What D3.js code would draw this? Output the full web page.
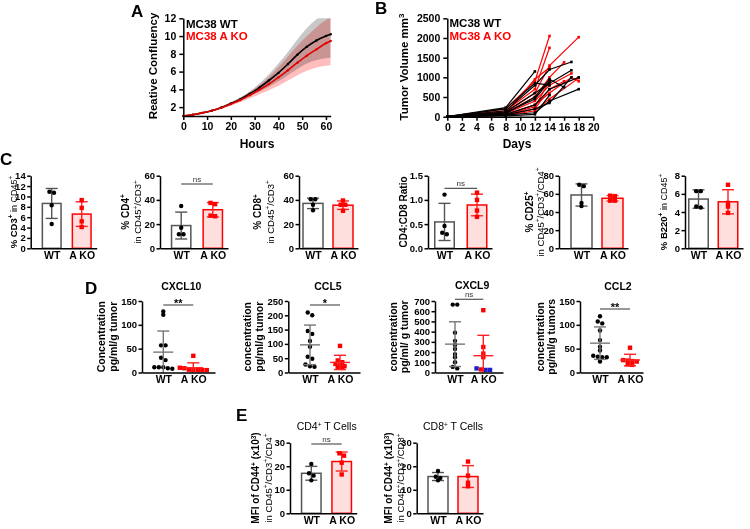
<!DOCTYPE html>
<html>
<head>
<meta charset="utf-8">
<script src="https://cdn.jsdelivr.net/npm/d3@7"></script>
<style>
body { margin: 0; background: #fff; }
svg { font-family: Arial, "Liberation Sans", sans-serif; }
.axis path, .axis line { stroke: #000; stroke-width: 1.5; }
.axis text { font-weight: bold; font-size: 10.5px; fill: #000; font-family: Arial, "Liberation Sans", sans-serif; }
.small text { font-size: 9.5px; }
.cat text { font-size: 10.5px; }
</style>
</head>
<body>
<script>
// ---------- A: confluency over time (mean and SD band) ----------
var hours   = [0, 4, 8, 12, 16, 20, 24, 28, 32, 36, 40, 44, 48, 52, 56, 60, 62]
var wtMean  = [1.0, 1.15, 1.35, 1.6, 1.95, 2.4, 2.9, 3.5, 4.2, 5.0, 5.85, 6.85, 7.9, 8.8, 9.5, 10.0, 10.2]
var wtUpper = [1.0, 1.17, 1.4, 1.67, 2.05, 2.55, 3.1, 3.8, 4.65, 5.7, 6.9, 8.2, 9.6, 10.9, 11.9, 12.5, 12.8]
var wtLower = [1.0, 1.13, 1.3, 1.53, 1.85, 2.25, 2.7, 3.2, 3.75, 4.3, 4.9, 5.6, 6.3, 6.9, 7.3, 7.5, 7.6]
var koMean  = [1.0, 1.15, 1.35, 1.6, 1.93, 2.35, 2.8, 3.35, 3.95, 4.6, 5.35, 6.15, 7.0, 7.8, 8.5, 9.2, 9.45]
var koUpper = [1.0, 1.17, 1.4, 1.67, 2.03, 2.5, 3.05, 3.7, 4.5, 5.4, 6.5, 7.7, 8.9, 10.0, 11.0, 11.8, 12.1]
var koLower = [1.0, 1.13, 1.3, 1.52, 1.8, 2.15, 2.55, 3.0, 3.45, 3.9, 4.4, 5.0, 5.6, 6.1, 6.45, 6.65, 6.7]

// ---------- B: tumour volume per mouse [day, mm3] ----------
var wtMice = [
  [[0,0],[8,230],[12,1150]],
  [[0,0],[8,150],[12,800],[14,1200],[17,1390]],
  [[0,0],[8,120],[12,600],[14,850],[17,1180]],
  [[0,0],[8,60],[12,300],[14,700],[18,1000]],
  [[0,0],[8,40],[12,100],[14,400],[18,700]],
  [[0,0],[8,80],[12,500],[14,950],[16,750]],
  [[0,0],[8,200],[12,850],[14,800]],
  [[0,0],[8,50],[12,200],[14,350],[17,1000]],
  [[0,0],[8,20],[12,60],[14,550]],
  [[0,0],[8,100],[12,450],[14,900]]
]
var koMice = [
  [[0,0],[8,200],[12,900],[14,2050]],
  [[0,0],[8,150],[12,700],[14,1750]],
  [[0,0],[8,120],[12,600],[14,1300],[18,2020]],
  [[0,0],[8,100],[12,500],[14,1000],[16,1380]],
  [[0,0],[8,80],[12,400],[14,800],[17,1100]],
  [[0,0],[8,60],[12,300],[14,600],[17,1000],[18,900]],
  [[0,0],[8,50],[12,250],[14,900]],
  [[0,0],[8,40],[12,200],[14,700],[16,900]],
  [[0,0],[8,100],[12,950],[14,1250]],
  [[0,0],[8,30],[12,150],[14,450],[18,980]]
]

// ---------- C: flow cytometry, 4 mice per group ----------
var groups = ['WT', 'A KO']
var cd3WT = [10.7, 10.9, 8.3, 4.7],   cd3KO = [9.3, 7.8, 5.2, 4.1]
var cd4WT = [35, 17, 11.6, 11.6],     cd4KO = [36.5, 37.5, 26.5, 27]
var cd8WT = [40.5, 40.5, 36, 31.5],   cd8KO = [39.5, 36, 36, 31]
var ratioWT = [1.11, 0.46, 0.32, 0.29], ratioKO = [1.15, 1.0, 0.78, 0.65]
var cd25WT = [68.5, 70, 50, 46.5],    cd25KO = [57.5, 58, 52.5, 52.5]
var b220WT = [6.3, 6.3, 4.6, 4.5],    b220KO = [7.0, 5.0, 4.6, 3.9]

// ---------- D: chemokines, pg/ml/g tumour ----------
var cxcl10WT = [128, 121, 57, 57, 31, 26, 11, 11, 11, 9, 8]
var cxcl10KO = [35, 10, 9, 6, 5, 5, 5, 5]
var ccl5WT = [210, 200, 145, 135, 110, 90, 55, 48, 28, 22, 20]
var ccl5KO = [93, 42, 36, 30, 25, 22, 18, 16]
var cxcl9WT = [665, 665, 390, 310, 270, 230, 180, 150, 100, 55, 40]
var cxcl9KO = [610, 250, 185, 150, 30]
var cxcl9KOblue = [25, 40, 25]
var ccl2WT = [118, 107, 103, 88, 68, 54, 46, 35, 33, 32, 32, 23]
var ccl2KO = [52, 26, 25, 24, 23, 17, 16]

// ---------- E: MFI of CD44 (x10^3) ----------
var cd44cd4WT = [21, 17, 16, 14],   cd44cd4KO = [25.5, 24.5, 21.5, 16.5]
var cd44cd8WT = [18, 15.5, 15, 14], cd44cd8KO = [22, 16, 13, 11.5]

var svg = d3.select('body').append('svg').attr('width', 750).attr('height', 529)

// panel letters
var letters = [['A', 131, 17], ['B', 375, 14], ['C', 0, 165], ['D', 85, 294], ['E', 236, 421]]
svg.selectAll('.letter').data(letters).enter().append('text')
  .attr('x', d => d[1]).attr('y', d => d[2]).text(d => d[0])
  .attr('font-size', 17).attr('font-weight', 'bold')

// text with bold / regular / superscript pieces
function richLabel(g, x, y, parts, rotate) {
  var t = g.append('text').attr('text-anchor', 'middle')
    .attr('transform', 'translate(' + x + ',' + y + ')' + (rotate ? ' rotate(-90)' : ''))
    .attr('y', 3.5)
  var up = false
  parts.forEach(function (p) {
    var s = t.append('tspan').text(p[0])
      .attr('font-weight', p[1] == 'b' ? 'bold' : 'normal')
      .attr('font-size', p[2])
    if (p[3] == 'sup' && !up) { s.attr('dy', -3.5); up = true }
    else if (p[3] != 'sup' && up) { s.attr('dy', 3.5); up = false }
  })
}

// ========== Panel A ==========
var ax = d3.scaleLinear().domain([0, 62]).range([183.3, 330.7])
var ay = d3.scaleLinear().domain([1, 12]).range([116, 18.3])

svg.append('clipPath').attr('id', 'clipA').append('rect')
  .attr('x', ax(0)).attr('y', ay(12)).attr('width', ax(62) - ax(0)).attr('height', ay(1) - ay(12))

var gA = svg.append('g')
var bands = gA.append('g').attr('clip-path', 'url(#clipA)')
function band(up, lo) {
  return d3.area().curve(d3.curveMonotoneX)
    .x((d, i) => ax(hours[i])).y0((d, i) => ay(lo[i])).y1((d, i) => ay(up[i]))(hours)
}
bands.append('path').attr('d', band(wtUpper, wtLower)).attr('fill', '#c8c8c8').style('mix-blend-mode', 'multiply')
bands.append('path').attr('d', band(koUpper, koLower)).attr('fill', '#ffbdbd').style('mix-blend-mode', 'multiply')

var curveLine = d3.line().curve(d3.curveMonotoneX).x((d, i) => ax(hours[i])).y(d => ay(d))
;[[wtMean, '#000'], [koMean, '#e00000']].forEach(function (s) {
  gA.append('path').attr('d', curveLine(s[0])).attr('fill', 'none').attr('stroke', s[1]).attr('stroke-width', 1.6)
  gA.selectAll(null).data(s[0]).enter().append('circle')
    .attr('cx', (d, i) => ax(hours[i])).attr('cy', d => ay(d)).attr('r', 1.2).attr('fill', s[1])
})

gA.append('g').attr('class', 'axis').attr('transform', 'translate(' + ax(0) + ',0)')
  .call(d3.axisLeft(ay).tickValues([2, 4, 6, 8, 10, 12]).tickSize(4).tickSizeOuter(0))
gA.append('g').attr('class', 'axis').attr('transform', 'translate(0,' + ay(1) + ')')
  .call(d3.axisBottom(ax).tickValues(d3.range(0, 61, 10)).tickSize(4).tickSizeOuter(0))
gA.append('text').attr('x', 257).attr('y', 148).attr('text-anchor', 'middle')
  .attr('font-size', 12).attr('font-weight', 'bold').text('Hours')
richLabel(gA, 153.5, 66, [['Reative Confluency', 'b', 11.5]], true)
gA.append('text').attr('x', 186).attr('y', 27.5).attr('font-size', 11.5).attr('font-weight', 'bold').text('MC38 WT')
gA.append('text').attr('x', 186).attr('y', 40).attr('font-size', 11.5).attr('font-weight', 'bold')
  .attr('fill', '#f00').text('MC38 A KO')

// ========== Panel B ==========
var bx = d3.scaleLinear().domain([0, 20]).range([447.3, 593.3])
var by = d3.scaleLinear().domain([0, 2500]).range([116.7, 18.3])
var gB = svg.append('g')
var mouseLine = d3.line().x(d => bx(d[0])).y(d => by(d[1]))
;[[koMice, '#f00'], [wtMice, '#000']].forEach(function (s) {
  s[0].forEach(function (m) {
    gB.append('path').attr('d', mouseLine(m)).attr('fill', 'none').attr('stroke', s[1]).attr('stroke-width', 1.2)
    gB.selectAll(null).data(m).enter().append('rect')
      .attr('x', d => bx(d[0]) - 1.3).attr('y', d => by(d[1]) - 1.3)
      .attr('width', 2.6).attr('height', 2.6).attr('fill', s[1])
  })
})
gB.append('g').attr('class', 'axis').attr('transform', 'translate(' + bx(0) + ',0)')
  .call(d3.axisLeft(by).tickValues(d3.range(0, 2501, 500)).tickSize(4).tickSizeOuter(0).tickFormat(d3.format('d')))
gB.append('g').attr('class', 'axis').attr('transform', 'translate(0,' + by(0) + ')')
  .call(d3.axisBottom(bx).tickValues(d3.range(0, 21, 2)).tickSize(4).tickSizeOuter(0))
gB.append('text').attr('x', 517).attr('y', 148).attr('text-anchor', 'middle')
  .attr('font-size', 12).attr('font-weight', 'bold').text('Days')
richLabel(gB, 404, 67, [['Tumor Volume mm', 'b', 11.5], ['3', 'b', 8, 'sup']], true)
gB.append('text').attr('x', 449.5).attr('y', 27).attr('font-size', 11.5).attr('font-weight', 'bold').text('MC38 WT')
gB.append('text').attr('x', 449.5).attr('y', 40).attr('font-size', 11.5).attr('font-weight', 'bold')
  .attr('fill', '#f00').text('MC38 A KO')

// ========== shared helpers for C, D, E ==========
function pointX(x0, x1, c) {
  var step = c[1] - c[0]
  return d3.scalePoint().domain(groups).range([x0, x1])
    .padding(((x1 - x0) / step - 1) / 2)
    .align((c[0] - x0) / ((x1 - x0) - step))
}

// spread points that would overlap side by side
function swarm(vals, y, cx, gap, close) {
  var items = vals.map(v => ({ v: v, py: y(v) })).sort((a, b) => a.py - b.py)
  var rows = [], cur = null
  items.forEach(function (it) {
    if (cur && it.py - cur[0].py < close) cur.push(it)
    else { cur = [it]; rows.push(cur) }
  })
  rows.forEach(r => r.forEach((it, i) => { it.px = cx + (i - (r.length - 1) / 2) * gap }))
  return items
}

function drawPoints(g, pts, kind, color) {
  if (kind == 'circle') {
    g.selectAll(null).data(pts).enter().append('circle')
      .attr('cx', d => d.px).attr('cy', d => d.py).attr('r', 2.2).attr('fill', color)
  } else {
    g.selectAll(null).data(pts).enter().append('rect')
      .attr('x', d => d.px - 2.2).attr('y', d => d.py - 2.2)
      .attr('width', 4.4).attr('height', 4.4).attr('fill', color)
  }
}

function errorBar(g, cx, y, m, sd, color, cap, meanW) {
  var lo = Math.max(y.domain()[0], m - sd), hi = m + sd
  g.append('line').attr('x1', cx).attr('x2', cx).attr('y1', y(lo)).attr('y2', y(hi))
    .attr('stroke', color).attr('stroke-width', 1.4)
  g.append('line').attr('x1', cx - cap / 2).attr('x2', cx + cap / 2).attr('y1', y(hi)).attr('y2', y(hi))
    .attr('stroke', color).attr('stroke-width', 1.4)
  if (m - sd > y.domain()[0])
    g.append('line').attr('x1', cx - cap / 2).attr('x2', cx + cap / 2).attr('y1', y(lo)).attr('y2', y(lo))
      .attr('stroke', color).attr('stroke-width', 1.4)
  if (meanW)
    g.append('line').attr('x1', cx - meanW / 2).attr('x2', cx + meanW / 2).attr('y1', y(m)).attr('y2', y(m))
      .attr('stroke', color).attr('stroke-width', 1.4)
}

function significance(g, x, lineY, txt) {
  g.append('line').attr('x1', x('WT')).attr('x2', x('A KO')).attr('y1', lineY).attr('y2', lineY)
    .attr('stroke', '#555').attr('stroke-width', 1.2)
  var ns = txt == 'ns'
  g.append('text').attr('x', (x('WT') + x('A KO')) / 2).attr('y', ns ? lineY - 2.5 : lineY + 1.5)
    .attr('text-anchor', 'middle').attr('font-size', ns ? 8 : 11).attr('font-weight', ns ? 'normal' : 'bold')
    .attr('fill', ns ? '#333' : '#000').text(txt)
}

function axes(g, x, y, ticks, fmt) {
  g.append('g').attr('class', 'axis small').attr('transform', 'translate(' + x.range()[0] + ',0)')
    .call(d3.axisLeft(y).tickValues(ticks).tickSize(3.5).tickPadding(1.5).tickSizeOuter(0).tickFormat(fmt || d3.format('d')))
  g.append('g').attr('class', 'axis cat').attr('transform', 'translate(0,' + y.range()[0] + ')')
    .call(d3.axisBottom(x).tickSize(0).tickPadding(3.5).tickSizeOuter(0))
}

// bar + SD + points chart
function barChart(p, top, base) {
  var g = svg.append('g')
  var y = d3.scaleLinear().domain([0, p.max]).range([base, top])
  var x = pointX(p.x0, p.x1, p.c)
  var sets = [[p.wt, 'WT', '#fff', '#555', '#555', 'circle', '#000'],
              [p.ko, 'A KO', '#ffdede', '#f00', '#f22', 'square', '#f00']]
  sets.forEach(function (s) {
    var m = d3.mean(s[0]), sd = d3.deviation(s[0]), cx = x(s[1])
    g.append('rect').attr('x', cx - p.bw / 2).attr('y', y(m)).attr('width', p.bw).attr('height', base - y(m))
      .attr('fill', s[2]).attr('stroke', s[3]).attr('stroke-width', 1.5)
    errorBar(g, cx, y, m, sd, s[4], 12)
    drawPoints(g, swarm(s[0], y, cx, 4.6, 3), s[5], s[6])
  })
  axes(g, x, y, d3.range(0, p.max + p.step / 2, p.step), p.fmt)
  p.labels.forEach(l => richLabel(g, l[0], (top + base) / 2, l[1], true))
  if (p.sig) significance(g, x, p.sig[1], p.sig[0])
  if (p.title) richLabel(g, p.title[0], p.title[1] - 3.5, p.title[2], false)
}

// scatter with mean + SD lines
function dotChart(p, top, base) {
  var g = svg.append('g')
  var y = d3.scaleLinear().domain([0, p.max]).range([base, top])
  var x = pointX(p.x0, p.x1, p.c)
  var all = p.ko.concat(p.koBlue || [])
  var wtPts = swarm(p.wt, y, x('WT'), 4.5, 3)
  var koPts = swarm(all, y, x('A KO'), 4.5, 3)
  drawPoints(g, wtPts, 'circle', '#000')
  var blue = (p.koBlue || []).slice()
  koPts.forEach(function (d) {
    var i = blue.indexOf(d.v)
    if (i >= 0) { d.blue = true; blue.splice(i, 1) }
  })
  drawPoints(g, koPts.filter(d => !d.blue), 'square', '#f00')
  drawPoints(g, koPts.filter(d => d.blue), 'square', '#1f1fc8')
  errorBar(g, x('WT'), y, d3.mean(p.wt), d3.deviation(p.wt), '#777', 12, 20)
  errorBar(g, x('A KO'), y, d3.mean(all), d3.deviation(all), '#f22', 12, 20)
  axes(g, x, y, d3.range(0, p.max + p.step / 2, p.step))
  p.labels.forEach((l, i) => richLabel(g, p.labelX[i], (top + base) / 2, [[l, 'b', 10.5]], true))
  significance(g, x, p.sigY, p.sig)
  g.append('text').attr('x', (p.c[0] + p.c[1]) / 2 + 3).attr('y', p.titleY).attr('text-anchor', 'middle')
    .attr('font-size', 10.5).attr('font-weight', 'bold').text(p.title)
}

function sup(t, w) { return [t, w || 'r', 6.5, 'sup'] }

// ========== Panel C ==========
var cPanels = [
  { wt: cd3WT, ko: cd3KO, max: 14, step: 2, x0: 30.7, x1: 96.7, c: [51.7, 81.7], bw: 18.7,
    labels: [[13, [['% CD3', 'b', 9.5], sup('+', 'b'), [' in CD45', 'r', 9], sup('+')]]] },
  { wt: cd4WT, ko: cd4KO, max: 60, step: 20, x0: 160, x1: 228, c: [181.2, 212.8], bw: 19.3, sig: ['ns', 184],
    labels: [[125, [['% CD4', 'b', 10], sup('+', 'b')]], [137.5, [['in CD45', 'r', 9.5], sup('+'), ['/CD3', 'r', 9.5], sup('+')]]] },
  { wt: cd8WT, ko: cd8KO, max: 60, step: 20, x0: 299, x1: 358, c: [313, 343], bw: 20,
    labels: [[257.5, [['% CD8', 'b', 10], sup('+', 'b')]], [270, [['in CD45', 'r', 9.5], sup('+'), ['/CD3', 'r', 9.5], sup('+')]]] },
  { wt: ratioWT, ko: ratioKO, max: 1.5, step: 0.5, x0: 428, x1: 492, c: [444.5, 477], bw: 19.5, sig: ['ns', 188.3],
    fmt: d3.format('.1f'), labels: [[403, [['CD4:CD8 Ratio', 'b', 10]]]] },
  { wt: cd25WT, ko: cd25KO, max: 80, step: 20, x0: 559, x1: 628, c: [581.5, 612.5], bw: 21,
    labels: [[529, [['% CD25', 'b', 10], sup('+', 'b')]],
             [540, [['in CD45', 'r', 9.5], sup('+'), ['/CD3', 'r', 9.5], sup('+'), ['/CD4', 'r', 9.5], sup('+')]]] },
  { wt: b220WT, ko: b220KO, max: 8, step: 2, x0: 685, x1: 743, c: [698.5, 728], bw: 19.5,
    labels: [[663, [['% B220', 'b', 9.5], sup('+', 'b'), [' in CD45', 'r', 9], sup('+')]]] }
]
cPanels.forEach(p => barChart(p, 175.7, 248.3))

// ========== Panel D ==========
var dPanels = [
  { title: 'CXCL10', titleY: 290, wt: cxcl10WT, ko: cxcl10KO, max: 150, step: 50, x0: 142, x1: 215, c: [163.3, 193.3],
    labels: ['Concentration', 'pg/ml/g tumor'], labelX: [101.7, 113.3], sig: '**', sigY: 305 },
  { title: 'CCL5', titleY: 290, wt: ccl5WT, ko: ccl5KO, max: 250, step: 50, x0: 288.3, x1: 360, c: [310, 340],
    labels: ['concentration', 'pg/ml/g tumor'], labelX: [247.5, 259], sig: '*', sigY: 305 },
  { title: 'CXCL9', titleY: 288.5, wt: cxcl9WT, ko: cxcl9KO, koBlue: cxcl9KOblue, max: 700, step: 100, x0: 435, x1: 503, c: [455, 483.3],
    labels: ['concentration', 'pg/ml/ g tumor'], labelX: [393, 404.5], sig: 'ns', sigY: 299.3 },
  { title: 'CCL2', titleY: 290, wt: ccl2WT, ko: ccl2KO, max: 150, step: 50, x0: 580, x1: 643, c: [600, 630],
    labels: ['concentration', 'pg/ml/g tumors'], labelX: [540, 551.7], sig: '**', sigY: 309 }
]
dPanels.forEach(p => dotChart(p, 301, 372.5))

// ========== Panel E ==========
var ePanels = [
  { wt: cd44cd4WT, ko: cd44cd4KO, max: 30, step: 10, x0: 290, x1: 356.7, c: [311.3, 341.7], bw: 19.5, sig: ['ns', 444],
    title: [326.7, 430, [['CD4', 'r', 10.5], sup('+'), [' T Cells', 'r', 10.5]]],
    labels: [[255.5, [['MFI of CD44', 'b', 10], sup('+', 'b'), [' (x10', 'b', 10], sup('3', 'b'), [')', 'b', 10]]],
             [268, [['in CD45', 'r', 9.5], sup('+'), ['/CD3', 'r', 9.5], sup('+'), ['/CD4', 'r', 9.5], sup('+')]]] },
  { wt: cd44cd8WT, ko: cd44cd8KO, max: 30, step: 10, x0: 416.7, x1: 483, c: [438, 468], bw: 20,
    title: [453, 430, [['CD8', 'r', 10.5], sup('+'), [' T Cells', 'r', 10.5]]],
    labels: [[388.5, [['MFI of CD44', 'b', 10], sup('+', 'b'), [' (x10', 'b', 10], sup('3', 'b'), [')', 'b', 10]]],
             [400.5, [['in CD45', 'r', 9.5], sup('+'), ['/CD3', 'r', 9.5], sup('+'), ['/CD8', 'r', 9.5], sup('+')]]] }
]
ePanels.forEach(p => barChart(p, 442.7, 513.3))
</script>
</body>
</html>
